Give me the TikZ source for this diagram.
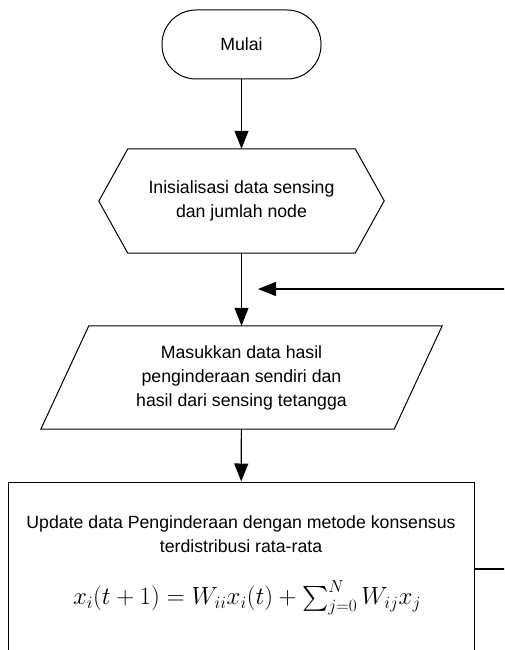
\documentclass[tikz,border=0pt]{standalone}
\usepackage{amsmath}
\usepackage[no-math]{fontspec}
\setmainfont{Liberation Sans}
\usetikzlibrary{arrows.meta}

\begin{document}
\begin{tikzpicture}
    [x=1pt, y=1pt, font=\fontsize{17.7}{24}\selectfont,
     terminal/.style={rectangle, rounded corners=34pt, draw, line width=1pt, minimum width=159pt, minimum height=69pt},
     badan/.style={rectangle, align=center, inner sep=0pt},
     proses/.style={rectangle, draw, line width=1pt},
     garis/.style={line width=1pt},
     panah/.style={-{Triangle[length=18pt,width=14pt]}, line width=1.2pt}]
    \useasboundingbox (0,0) rectangle (504,-650);
    \clip (0,0) rectangle (504,-650);

    \node[terminal] (mulai) at (241.5,-44.5) {Mulai};

    \node[badan, minimum width=227pt, minimum height=104pt] (init) at (241.5,-201) {Inisialisasi data sensing\\dan jumlah node};
    \draw[garis] (init.north west) -- (init.north east) -- ++(29,-52) -- (init.south east)
        -- (init.south west) -- ++(-29,52) -- cycle;

    \node[badan, minimum width=353pt, minimum height=103pt] (masuk) at (241.5,-377.5) {Masukkan data hasil\\penginderaan sendiri dan\\hasil dari sensing tetangga};
    \draw[garis] ([xshift=24pt]masuk.north west) -- ([xshift=24pt]masuk.north east)
        -- ([xshift=-24pt]masuk.south east) -- ([xshift=-24pt]masuk.south west) -- cycle;

    \node[proses, minimum width=466pt, minimum height=190pt] (update) at (241,-577) {};
    \node[badan] (updtxt) at (241,-534) {Update data Penginderaan dengan metode konsensus\\terdistribusi rata-rata};
    \node[badan, font=\fontsize{27}{32}\selectfont] (rumus) at (247,-598) {$x_i(t+1) = W_{ii}x_i(t) + \sum_{j=0}^{N} W_{ij}x_j$};

    \coordinate (balik) at (530,-569);
    \coordinate (kembali) at (258,-289);

    \draw[panah] (mulai) -- (init);
    \draw[panah] (init) -- (masuk);
    \draw[panah] (masuk) -- (update);
    \draw[panah] (update.east |- balik) -- (balik) |- (kembali);

\end{tikzpicture}
\end{document}
